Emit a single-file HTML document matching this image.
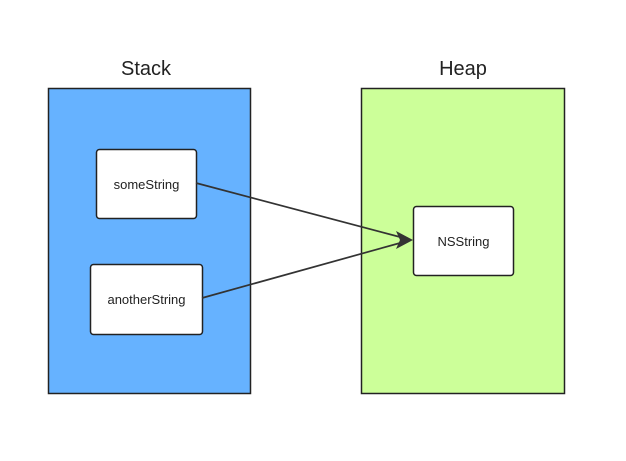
<!DOCTYPE html>
<html><head><meta charset="utf-8"><style>
html,body{margin:0;padding:0;background:#fff;}
</style></head><body>
<svg width="626" height="456" viewBox="0 0 626 456" xmlns="http://www.w3.org/2000/svg" font-family="Liberation Sans, DejaVu Sans, sans-serif">
<rect width="626" height="456" fill="#fff"/>
<text x="146" y="75" font-size="20" text-anchor="middle" fill="#222">Stack</text>
<text x="463" y="75" font-size="20" text-anchor="middle" fill="#222">Heap</text>
<rect x="48.5" y="88.5" width="202" height="305" fill="#66b2ff" stroke="#222" stroke-width="1.5"/>
<rect x="361.5" y="88.5" width="203" height="305" fill="#ccff99" stroke="#222" stroke-width="1.5"/>
<rect x="96.5" y="149.5" width="100" height="69" rx="3" fill="#fff" stroke="#222" stroke-width="1.5"/>
<rect x="90.5" y="264.5" width="112" height="70" rx="3" fill="#fff" stroke="#222" stroke-width="1.5"/>
<rect x="413.5" y="206.5" width="100" height="69" rx="3" fill="#fff" stroke="#222" stroke-width="1.5"/>
<text x="146.5" y="189" font-size="13" text-anchor="middle" fill="#222">someString</text>
<text x="146.5" y="304" font-size="13" text-anchor="middle" fill="#222">anotherString</text>
<text x="463.5" y="246" font-size="13" text-anchor="middle" fill="#222">NSString</text>
<line x1="196" y1="183" x2="400" y2="237" stroke="#333" stroke-width="1.7"/>
<line x1="202" y1="298" x2="400" y2="243" stroke="#333" stroke-width="1.7"/>
<polygon points="413,240 396,231 400,240 396,249" fill="#333"/>
</svg>
</body></html>
